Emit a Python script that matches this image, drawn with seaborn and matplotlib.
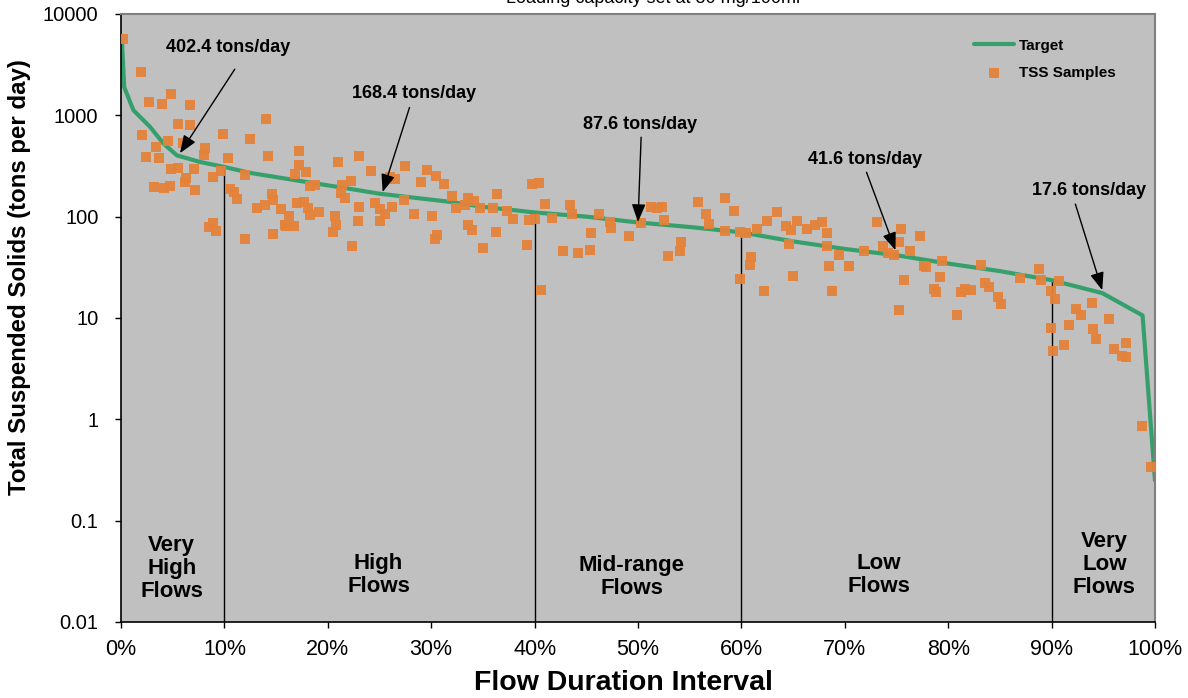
import numpy as np
import pandas as pd
import matplotlib
matplotlib.use("Agg")
import matplotlib.pyplot as plt
import seaborn as sns
from matplotlib.ticker import FixedLocator, NullLocator
import matplotlib.transforms as mtransforms

# ---------------- data ----------------
target_pct = [0.1, 0.3, 1.2, 2.8, 4.1, 5.4, 7.6, 10, 12.5, 17.3, 22, 25, 31.8, 35, 40, 45,
              50, 55, 60, 65, 70, 75, 80, 85, 90, 94.9, 98.8, 100]
target_val = [5100, 1900, 1120, 770, 527, 402.4, 347, 309, 270, 225, 189, 168.4, 140, 125, 110, 100,
              87.6, 79, 70, 57, 48, 41.6, 34.4, 29, 23.6, 17.6, 10.6, 0.25]

sample_pct = [
    0.2, 1.9, 2.7, 4.0, 4.8, 6.7, 5.5, 6.7, 2.0, 4.5, 3.4, 6.0, 8.1, 8.0, 2.4, 3.7, 4.8, 5.5, 7.1, 6.3,
    6.2, 3.2, 4.2, 4.7, 7.2, 8.9, 9.7, 10.3, 9.9, 14.0, 12.5, 14.2, 12.0, 10.5, 10.9, 11.2, 13.1, 13.9,
    14.6, 14.7, 15.5, 15.9, 14.7, 12.0, 8.9, 9.2, 8.5,
    17.2, 17.2, 16.8, 17.9, 18.3, 18.8, 21.0, 23.0, 24.2, 22.2, 21.4, 21.3, 21.7, 17.0, 17.7, 18.1,
    18.3, 19.1, 16.2, 16.7, 16.0, 20.7, 20.8, 20.5, 22.3, 22.9, 23.0, 24.6, 25.0, 25.5, 25.0, 26.2,
    26.0, 26.5, 27.5, 27.4, 28.3, 30.1, 29.0, 29.6, 30.5, 31.2, 32.0, 32.4, 30.6, 30.4,
    33.6, 34.1, 33.3, 34.7, 36.0, 36.4, 37.3, 37.9, 33.6, 33.9, 36.3, 35.0, 39.7, 40.4, 41.0, 39.5,
    40.0, 39.3, 40.6, 41.7, 43.4, 43.6, 42.7, 44.2, 45.4, 45.5, 46.2, 47.3, 47.4, 49.1,
    50.3, 51.3, 51.8, 52.3, 52.5, 54.2, 54.1, 52.9, 55.8, 56.6, 56.9, 58.4, 59.3, 58.4, 59.9, 60.4,
    61.5, 60.9, 60.8, 59.9, 62.2, 62.5, 63.4, 64.3, 64.8, 65.4, 64.6, 65.0,
    66.3, 67.1, 67.8, 68.3, 68.3, 69.4, 68.5, 70.4, 68.8, 71.9, 73.1, 75.4, 73.7, 74.2, 74.8, 75.2,
    76.3, 77.3, 75.7, 75.2, 77.7, 77.9, 79.4, 79.2, 78.6, 78.8, 80.9, 81.2, 81.6,
    83.2, 82.2, 83.6, 83.9, 84.8, 85.1, 86.9, 88.8, 89.0, 90.7, 89.9, 90.3, 89.9, 90.1, 91.2, 91.7,
    92.4, 92.8, 93.9, 94.0, 94.3, 95.6, 96.0, 96.8, 97.2, 97.2, 98.7, 99.6,
]
sample_val = [
    5640, 2680, 1360, 1300, 1640, 1260, 820, 800, 640, 555, 490, 535, 477, 404, 388, 383, 298, 303, 298, 241,
    220, 194, 192, 201, 183, 247, 281, 380, 661, 909, 590, 397, 260, 189, 175, 148, 122, 130,
    169, 145, 120, 82, 68, 60, 87.5, 72, 79,
    445, 322, 266, 276, 200, 207, 344, 395, 283, 224, 204, 171, 154, 137, 140, 123,
    103, 111, 101, 81, 81, 101, 82, 70, 51, 90, 125, 135, 120, 105, 91, 125,
    247, 234, 314, 147, 107, 101, 220, 287, 250, 212, 159, 123, 66.6, 60.8,
    151, 143, 130, 123, 123, 169, 113, 94.3, 82, 73.4, 70.6, 49.5, 212, 217, 132, 92,
    94, 52.6, 18.8, 98, 130, 107, 45.9, 43.8, 47.3, 69.7, 105, 88.7, 78, 64.5,
    86.7, 125, 123, 125, 93.6, 56.3, 45.9, 40.6, 138, 106, 85.5, 151, 114, 72.3, 70.6, 69,
    75.1, 40, 33.1, 24.5, 18.5, 90.7, 111, 80.4, 73.4, 90.7, 54.2, 25.8,
    75.1, 82.2, 88.7, 69, 51.4, 42.2, 32.6, 32.4, 18.3, 45.9, 88.7, 76.3, 51, 43.8, 41.6, 56.3,
    45.9, 64, 23.6, 12.1, 32.4, 31.5, 36.5, 25.2, 19.5, 18.1, 10.8, 18.1, 19.1,
    33.7, 18.8, 22.2, 20, 16.1, 13.7, 24.8, 30.7, 23.9, 23.2, 18.5, 15.3, 7.97, 4.69, 5.38, 8.6,
    12.2, 10.6, 13.9, 7.74, 6.26, 9.86, 4.91, 4.22, 5.67, 4.12, 0.859, 0.338,
]

divider_pct = [10, 40, 60, 90]
region_labels = ["Very\nHigh\nFlows", "High\nFlows", "Mid-range\nFlows", "Low\nFlows", "Very\nLow\nFlows"]
region_pct = [4.9, 24.9, 49.4, 73.3, 95.1]
region_yfrac = [0.088, 0.078, 0.074, 0.078, 0.094]

ann_text = ["402.4 tons/day", "168.4 tons/day", "87.6 tons/day", "41.6 tons/day", "17.6 tons/day"]
ann_text_xy = [(10.4, 4700), (28.3, 1650), (50.2, 817), (72.0, 369), (93.6, 182)]
ann_tail_xy = [(11.0, 2850), (27.9, 1194), (50.3, 608), (72.1, 274), (92.3, 133)]
ann_tip_xy = [(5.7, 423), (25.3, 175), (50.0, 88.7), (74.9, 46.6), (94.9, 18.8)]

y_ticks = [0.01, 0.1, 1, 10, 100, 1000, 10000]
y_tick_labels = ["0.01", "0.1", "1", "10", "100", "1000", "10000"]
x_ticks = list(range(0, 101, 10))
x_tick_labels = [f"{v}%" for v in x_ticks]

title_text = "Loading capacity set at 80 mg/100ml"

# ---------------- style ----------------
sns.set_theme(style="white")
plt.rcParams["font.family"] = ["Liberation Sans", "DejaVu Sans"]
plt.rcParams["text.color"] = "black"
plt.rcParams["axes.labelcolor"] = "black"
plt.rcParams["xtick.color"] = "black"
plt.rcParams["ytick.color"] = "black"

GREEN = "#36A06C"
ORANGE = "#E5823A"
BG = "#C0C0C0"

fig = plt.figure(figsize=(11.88, 6.98), dpi=100)
ax = fig.add_axes([0.1019, 0.1089, 0.8703, 0.8711])
ax.set_facecolor(BG)

target_df = pd.DataFrame({"pct": target_pct, "val": target_val})
sample_df = pd.DataFrame({"pct": sample_pct, "val": sample_val})

ax.set_yscale("log")

# vertical dividers up to target curve
for d in divider_pct:
    top = 10 ** np.interp(d, target_pct, np.log10(target_val))
    ax.plot([d, d], [0.01, top], color="black", lw=1.0, zorder=1)

sns.scatterplot(data=sample_df, x="pct", y="val", ax=ax, marker="s", s=62,
                color=ORANGE, edgecolor=ORANGE, linewidth=0, alpha=0.95,
                label="TSS Samples", zorder=3)
sns.lineplot(data=target_df, x="pct", y="val", ax=ax, color=GREEN, lw=3,
             label="Target", zorder=2, estimator=None, sort=False)

ax.set_xlim(0, 100)
ax.set_ylim(0.01, 10000)

ax.yaxis.set_major_locator(FixedLocator(y_ticks))
ax.yaxis.set_minor_locator(NullLocator())
ax.set_yticklabels(y_tick_labels, fontsize=14.5, color="black")
ax.set_xticks(x_ticks)
ax.set_xticklabels(x_tick_labels, fontsize=15.5, color="black")
ax.tick_params(axis="both", direction="out", length=4.3, width=1, color="black")
ax.tick_params(axis="y", left=True, pad=12)
ax.tick_params(axis="x", bottom=True, pad=8)

for side in ["left", "bottom"]:
    ax.spines[side].set_color("black")
    ax.spines[side].set_linewidth(1.2)
for side in ["top", "right"]:
    ax.spines[side].set_color("#808080")
    ax.spines[side].set_linewidth(1.5)

ax.set_xlabel("")
ax.set_ylabel("")
fig.text(623 / 1188, 1 - 683 / 698, "Flow Duration Interval", ha="center", va="center",
         fontsize=20.5, fontweight="bold", color="black")
fig.text(20 / 1188, 1 - 277 / 698, "Total Suspended Solids (tons per day)", ha="center",
         va="center", rotation=90, fontsize=17.3, fontweight="bold", color="black")

# legend
handles, labels = ax.get_legend_handles_labels()
order = [labels.index("Target"), labels.index("TSS Samples")]
leg = ax.legend([handles[i] for i in order], [labels[i] for i in order],
                loc="upper left", bbox_to_anchor=(0.812, 0.982), frameon=False,
                prop={"weight": "bold", "size": 11}, handlelength=2.6,
                labelspacing=0.85, handletextpad=0.3)
for t in leg.get_texts():
    t.set_color("black")

# annotations
for t, txy, tail, tip in zip(ann_text, ann_text_xy, ann_tail_xy, ann_tip_xy):
    ax.text(txy[0], txy[1], t, ha="center", va="center", fontsize=13,
            fontweight="bold", color="black", zorder=5)
    ax.annotate("", xy=tip, xytext=tail,
                arrowprops=dict(arrowstyle="-|>,head_length=0.9,head_width=0.35",
                                color="black", lw=1.0, shrinkA=0, shrinkB=0),
                zorder=5)

# region labels
trans = mtransforms.blended_transform_factory(ax.transData, ax.transAxes)
for lab, xp, yf in zip(region_labels, region_pct, region_yfrac):
    ax.text(xp, yf, lab, transform=trans, ha="center", va="center",
            fontsize=16, fontweight="bold", linespacing=1.12, color="black", zorder=5)

fig.text(0.55, 1 - 3 / 698, title_text, ha="center", va="baseline", fontsize=13, color="black")

fig.savefig("out.png", dpi=100, facecolor="white")
